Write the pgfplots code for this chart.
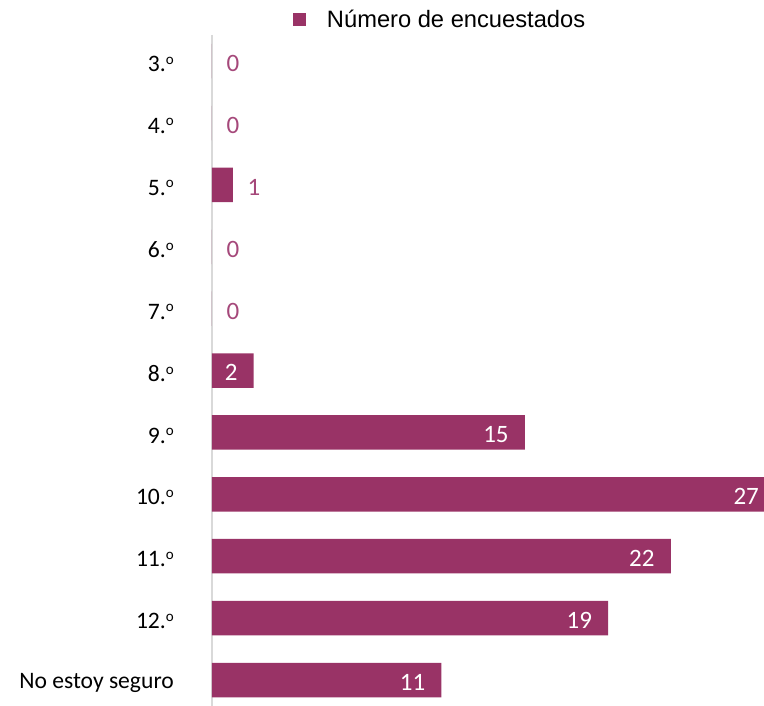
\documentclass[border=0pt]{standalone}
\usepackage{pgfplots}
\pgfplotsset{compat=1.18}
\usepackage{fontspec}
\setmainfont{Carlito}
\newfontfamily\arialfont{Liberation Sans}
\definecolor{barcol}{HTML}{993366}
\definecolor{lblcol}{HTML}{A5487A}
\definecolor{axcol}{HTML}{D9D9D9}
\newcommand\ord{\raisebox{0.32em}{\fontsize{15}{15}\selectfont o}}
\begin{document}
\begin{tikzpicture}[x=1pt,y=1pt]
\useasboundingbox (0,0) rectangle (764,706);
\begin{axis}[
 at={(212pt,0pt)}, anchor=south west,
 scale only axis, width=552pt, height=671pt,
 xbar, bar width=34.5pt,
 xmin=0, xmax=26.47, ymin=-0.423, ymax=10.42,
 clip=false,
 y dir=reverse,
 hide x axis,
 axis y line*=left,
 y axis line style={draw=axcol, line width=2.5pt},
 major tick length=0pt,
 ytick={0,...,10},
 yticklabels={3.\ord,4.\ord,5.\ord,6.\ord,7.\ord,8.\ord,9.\ord,10.\ord,11.\ord,12.\ord,No estoy seguro},
 yticklabel style={anchor=east, inner sep=0pt, xshift=-38pt, yshift=-3pt, font=\fontsize{23.6}{28}\selectfont},
 /pgf/number format/assume math mode=true,
 legend style={at={(0.1467,1.0224)}, anchor=west, draw=none, fill=none, inner sep=0pt, outer sep=0pt,
   column sep=21pt, nodes={inner sep=0pt}, font=\arialfont\fontsize{23.7}{28}\selectfont},
 legend image code/.code={\fill[barcol] (0pt,-6.5pt) rectangle (13pt,6.5pt);},
]
\addplot[xbar, bar shift=0pt, fill=barcol, draw=none, forget plot,
  nodes near coords,
  every node near coord/.append style={anchor=west, inner sep=0pt, xshift=14.5pt, yshift=-2.5pt, text=lblcol, font=\fontsize{25}{28}\selectfont}]
  coordinates {(0,0) (0,1) (1,2) (0,3) (0,4)};
\addplot[xbar, bar shift=0pt, fill=barcol, draw=none,
  nodes near coords,
  every node near coord/.append style={anchor=east, inner sep=0pt, xshift=-16pt, yshift=-2pt, text=white, font=\fontsize{25}{28}\selectfont},
  legend image code/.code={\fill[barcol] (0pt,-6.5pt) rectangle (13pt,6.5pt);}]
  coordinates {(2,5) (15,6) (27,7) (22,8) (19,9) (11,10)};
\addlegendentry{Número de encuestados}
\end{axis}
\end{tikzpicture}
\end{document}
